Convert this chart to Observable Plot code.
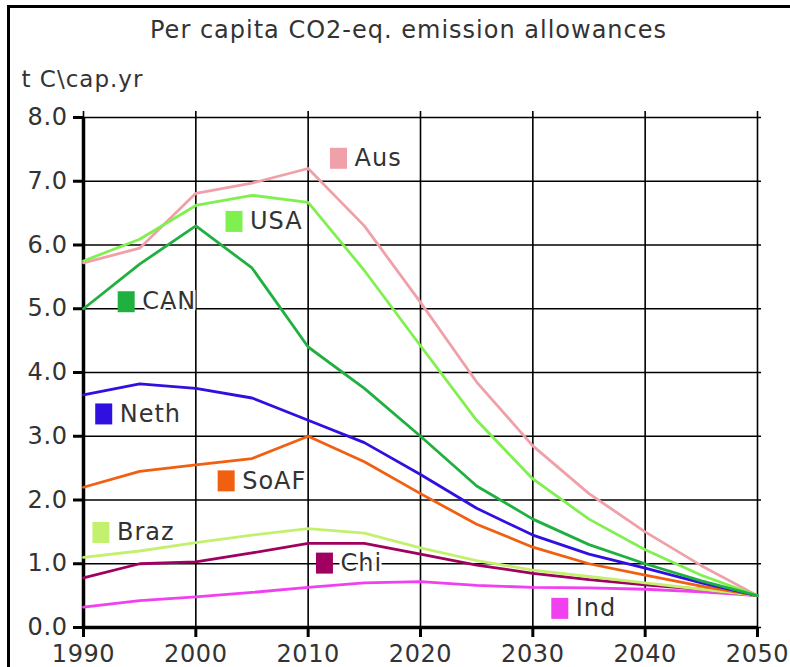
<!DOCTYPE html>
<html>
<head>
<meta charset="utf-8">
<script src="https://cdn.jsdelivr.net/npm/d3@7"></script>
<script src="https://cdn.jsdelivr.net/npm/@observablehq/plot@0.6"></script>
<style>
  html, body { margin: 0; padding: 0; background: #fff; }
  #wrap { position: relative; width: 790px; height: 667px; overflow: hidden; }
  #border { position: absolute; left: 7px; top: 5px; width: 800px; height: 700px;
            border-left: 3px solid #000; border-top: 3px solid #000; pointer-events: none; }
</style>
</head>
<body>
<div id="wrap"><div id="border"></div></div>
<script>
const years = [1990, 1995, 2000, 2005, 2010, 2015, 2020, 2025, 2030, 2035, 2040, 2045, 2050];
const seriesNames = ["Ind", "Chi", "Braz", "SoAF", "Neth", "Aus", "USA", "CAN"];
const colors = ["#f040f0", "#a00060", "#c4f070", "#f06010", "#3010e0", "#f0a0a8", "#80f050", "#20b040"];
const Aus  = [5.72, 5.95, 6.81, 6.97, 7.20, 6.30, 5.10, 3.85, 2.85, 2.10, 1.50, 0.97, 0.50];
const USA  = [5.75, 6.09, 6.62, 6.78, 6.67, 5.60, 4.42, 3.25, 2.33, 1.70, 1.22, 0.82, 0.50];
const CAN  = [5.00, 5.70, 6.30, 5.64, 4.40, 3.75, 3.00, 2.22, 1.70, 1.30, 1.00, 0.73, 0.50];
const Neth = [3.65, 3.82, 3.75, 3.60, 3.25, 2.90, 2.40, 1.87, 1.45, 1.15, 0.93, 0.70, 0.50];
const SoAF = [2.20, 2.45, 2.55, 2.65, 3.00, 2.60, 2.10, 1.62, 1.26, 1.00, 0.82, 0.65, 0.50];
const Braz = [1.10, 1.20, 1.33, 1.45, 1.55, 1.48, 1.25, 1.05, 0.90, 0.80, 0.70, 0.60, 0.50];
const Chi  = [0.78, 1.00, 1.03, 1.17, 1.32, 1.32, 1.15, 0.98, 0.85, 0.75, 0.67, 0.60, 0.50];
const Ind  = [0.32, 0.42, 0.48, 0.55, 0.63, 0.70, 0.72, 0.66, 0.63, 0.62, 0.60, 0.56, 0.50];
const seriesValues = {Ind, Chi, Braz, SoAF, Neth, Aus, USA, CAN};

const labelNames = ["Aus", "USA", "CAN", "Neth", "SoAF", "Braz", "Chi", "Ind"];
const labelX = [2012.7, 2003.4, 1993.8, 1991.8, 2002.7, 1991.55, 2011.45, 2032.4];
const labelY = [7.36, 6.37, 5.11, 3.35, 2.30, 1.49, 1.01, 0.30];

const xTicks = [1990, 2000, 2010, 2020, 2030, 2040, 2050];
const yTicks = [0, 1, 2, 3, 4, 5, 6, 7, 8];
const titleText = "Per capita CO2-eq. emission allowances";
const yLabelText = "t C\\cap.yr";

const rows = [];
seriesNames.forEach(name => {
  seriesValues[name].forEach((v, i) => rows.push({series: name, year: years[i], value: v}));
});
const labels = labelNames.map((n, i) => ({series: n, x: labelX[i], y: labelY[i]}));

const rectSymbol = { draw(ctx, size) { ctx.rect(-8.5, -10.5, 17, 21); } };
const font = "DejaVu Sans, Verdana, sans-serif";

const chart = Plot.plot({
  width: 790,
  height: 667,
  marginLeft: 83,
  marginRight: 33,
  marginTop: 117,
  marginBottom: 40,
  style: {fontFamily: font, background: "white", overflow: "visible"},
  x: {domain: [1990, 2050], ticks: xTicks, tickFormat: d => String(d)},
  y: {domain: [0, 8], ticks: yTicks, tickFormat: d3.format(".1f")},
  color: {domain: seriesNames, range: colors},
  marks: [
    Plot.gridX(xTicks, {stroke: "#000", strokeOpacity: 1, strokeWidth: 1.6, insetTop: -6}),
    Plot.gridY(yTicks, {stroke: "#000", strokeOpacity: 1, strokeWidth: 1.6, insetRight: -4}),
    Plot.axisX(xTicks, {tickSize: 10, tickPadding: 7, fontSize: 24, fill: "#333", stroke: "#000", strokeWidth: 3, tickFormat: d => String(d)}),
    Plot.axisY(yTicks, {tickSize: 10, tickPadding: 6, fontSize: 24, fill: "#333", stroke: "#000", strokeWidth: 3, tickFormat: d3.format(".1f")}),
    Plot.ruleX([1990], {stroke: "#000", strokeWidth: 3.5}),
    Plot.ruleY([0], {stroke: "#000", strokeWidth: 3.5}),
    Plot.line(rows, {x: "year", y: "value", z: "series", stroke: "series", strokeWidth: 2.8, curve: "linear"}),
    Plot.text(labels, {x: "x", y: "y", text: "series", textAnchor: "start", dx: 16, fontSize: 24, fill: "#333",
      stroke: "white", strokeWidth: 5, paintOrder: "stroke"}),
    Plot.dot(labels, {x: "x", y: "y", fill: "series", stroke: null, symbol: rectSymbol, r: 8}),
    Plot.text([titleText], {frameAnchor: "top", dx: -12, dy: -97, fontSize: 24, fill: "#333", text: d => d}),
    Plot.text([yLabelText], {frameAnchor: "top-left", dx: -62, dy: -47, textAnchor: "start", fontSize: 23, fill: "#333", text: d => d})
  ]
});
// widen letter spacing to match the reference's Verdana-like rendering
chart.querySelectorAll('g[aria-label="text"] text').forEach(t => t.setAttribute("letter-spacing", "1"));
chart.querySelectorAll('g[aria-label$="tick label"] text').forEach(t => t.setAttribute("letter-spacing", "0.6"));
document.getElementById("wrap").prepend(chart);
</script>
</body>
</html>
